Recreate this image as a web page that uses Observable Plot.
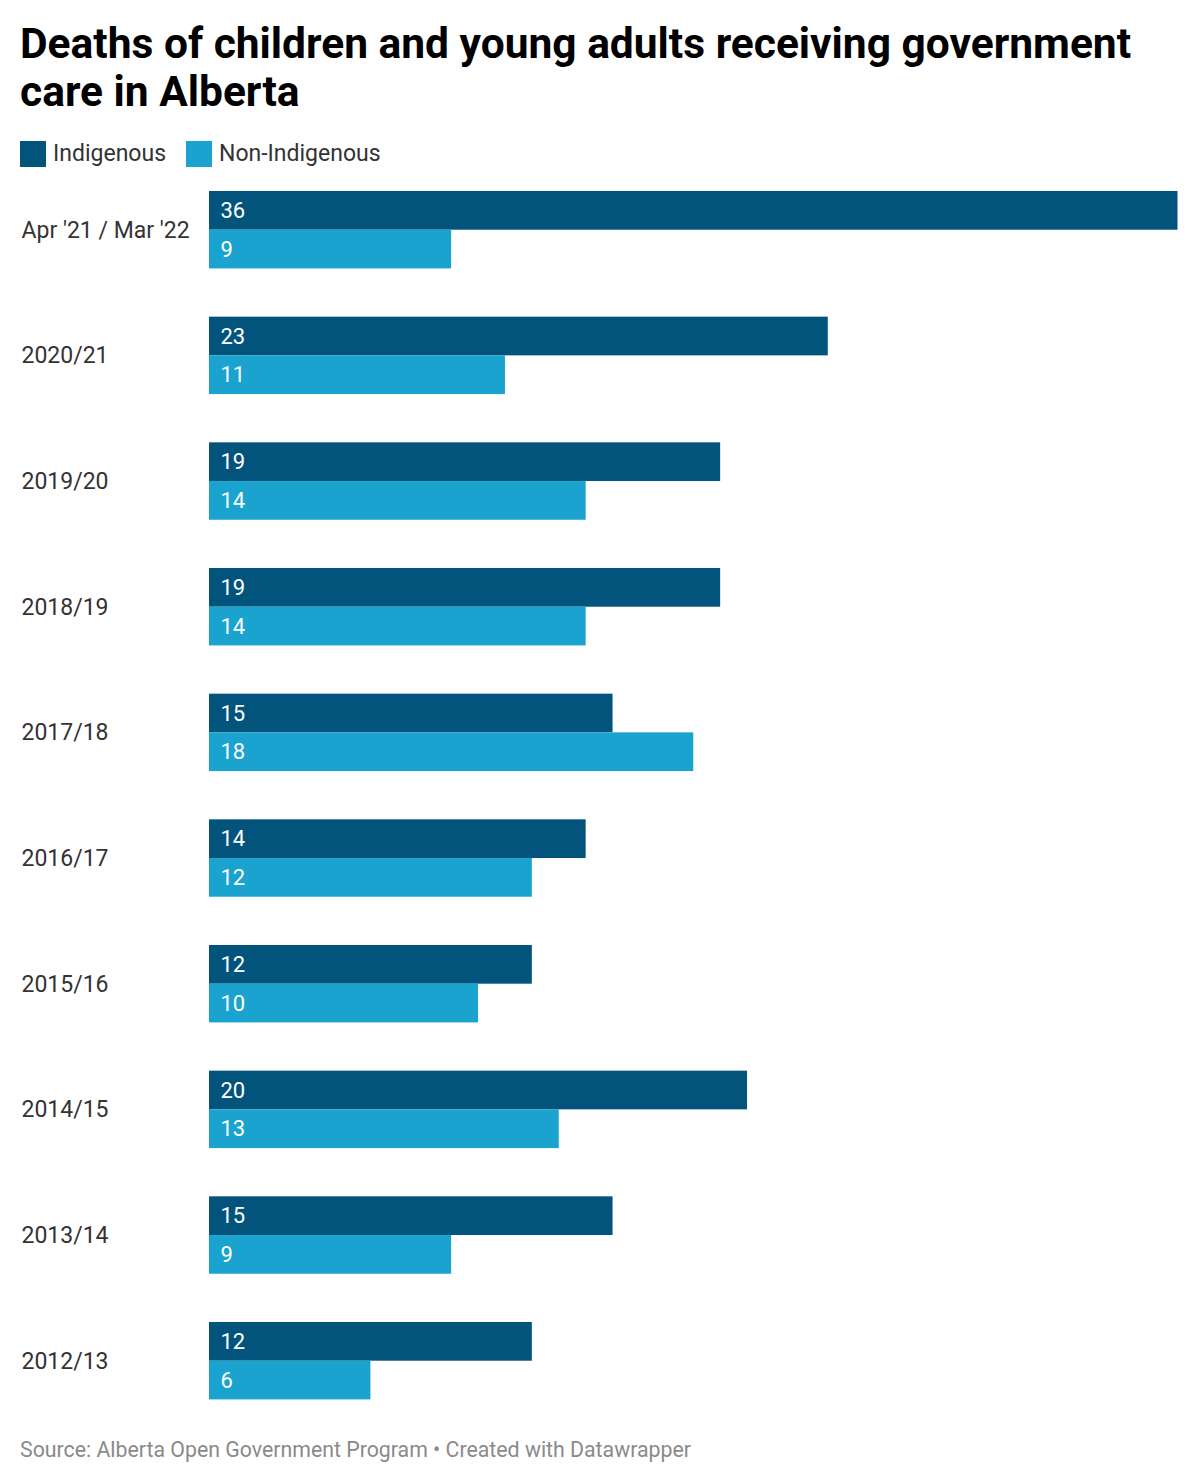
<!DOCTYPE html>
<html>
<head>
<meta charset="utf-8">
<script src="https://cdn.jsdelivr.net/npm/d3@7"></script>
<script src="https://cdn.jsdelivr.net/npm/@observablehq/plot@0.6"></script>
<style>
  body { margin: 0; background: #fff; font-family: Roboto, "Noto Sans", sans-serif; }
  #wrap { position: relative; width: 1199px; height: 1483px; }
  #title { position: absolute; left: 20px; top: 20px; width: 1170px; font-size: 42.5px; font-weight: 700; line-height: 48px; color: #000; }
  #legend { position: absolute; left: 20px; top: 140px; display: flex; align-items: center; font-size: 23px; color: #333; }
  .sw { width: 26px; height: 26px; display: inline-block; margin-right: 7px; }
  .item { display: flex; align-items: center; margin-right: 20px; }
  #chart { position: absolute; left: 0; top: 180px; line-height: 0; }
  #chart svg { display: block; }
  #foot { position: absolute; left: 20px; top: 1437px; font-size: 21.3px; color: #8a8a8a; }
</style>
</head>
<body>
<div id="wrap">
  <div id="title">Deaths of children and young adults receiving government care in Alberta</div>
  <div id="legend"></div>
  <div id="chart"></div>
  <div id="foot">Source: Alberta Open Government Program • Created with Datawrapper</div>
</div>
<script>
const periods = ["Apr '21 / Mar '22", "2020/21", "2019/20", "2018/19", "2017/18", "2016/17", "2015/16", "2014/15", "2013/14", "2012/13"];
const series = ["Indigenous", "Non-Indigenous"];
const indigenous = [36, 23, 19, 19, 15, 14, 12, 20, 15, 12];
const nonIndigenous = [9, 11, 14, 14, 18, 12, 10, 13, 9, 6];
const colors = ["#03547c", "#19a3ce"];

const data = [];
periods.forEach((p, i) => {
  data.push({period: p, series: series[0], value: indigenous[i]});
  data.push({period: p, series: series[1], value: nonIndigenous[i]});
});

const legend = document.getElementById("legend");
series.forEach((s, i) => {
  const it = document.createElement("div");
  it.className = "item";
  it.innerHTML = `<span class="sw" style="background:${colors[i]}"></span><span>${s}</span>`;
  legend.appendChild(it);
});

const chart = Plot.plot({
  width: 1199,
  height: 1230,
  marginLeft: 209,
  marginRight: 21.5,
  marginTop: 11,
  marginBottom: 10.6,
  style: {fontFamily: "Roboto, sans-serif", fontSize: "22px", background: "#fff"},
  x: {domain: [0, 36], axis: null},
  y: {domain: series, axis: null, padding: 0, round: false},
  fy: {domain: periods, axis: null, paddingInner: 0.384, paddingOuter: 0, round: false},
  color: {domain: series, range: colors},
  marks: [
    Plot.barX(data, {fy: "period", y: "series", x: "value", fill: "series"}),
    Plot.text(data, {fy: "period", y: "series", x: 0, text: d => String(d.value), textAnchor: "start", dx: 11, fill: "#fff", fontSize: 22}),
    Plot.text(periods, {fy: d => d, text: d => d, frameAnchor: "left", dx: -188, textAnchor: "start", fill: "#333", fontSize: 23})
  ]
});
document.getElementById("chart").appendChild(chart);
</script>
</body>
</html>
